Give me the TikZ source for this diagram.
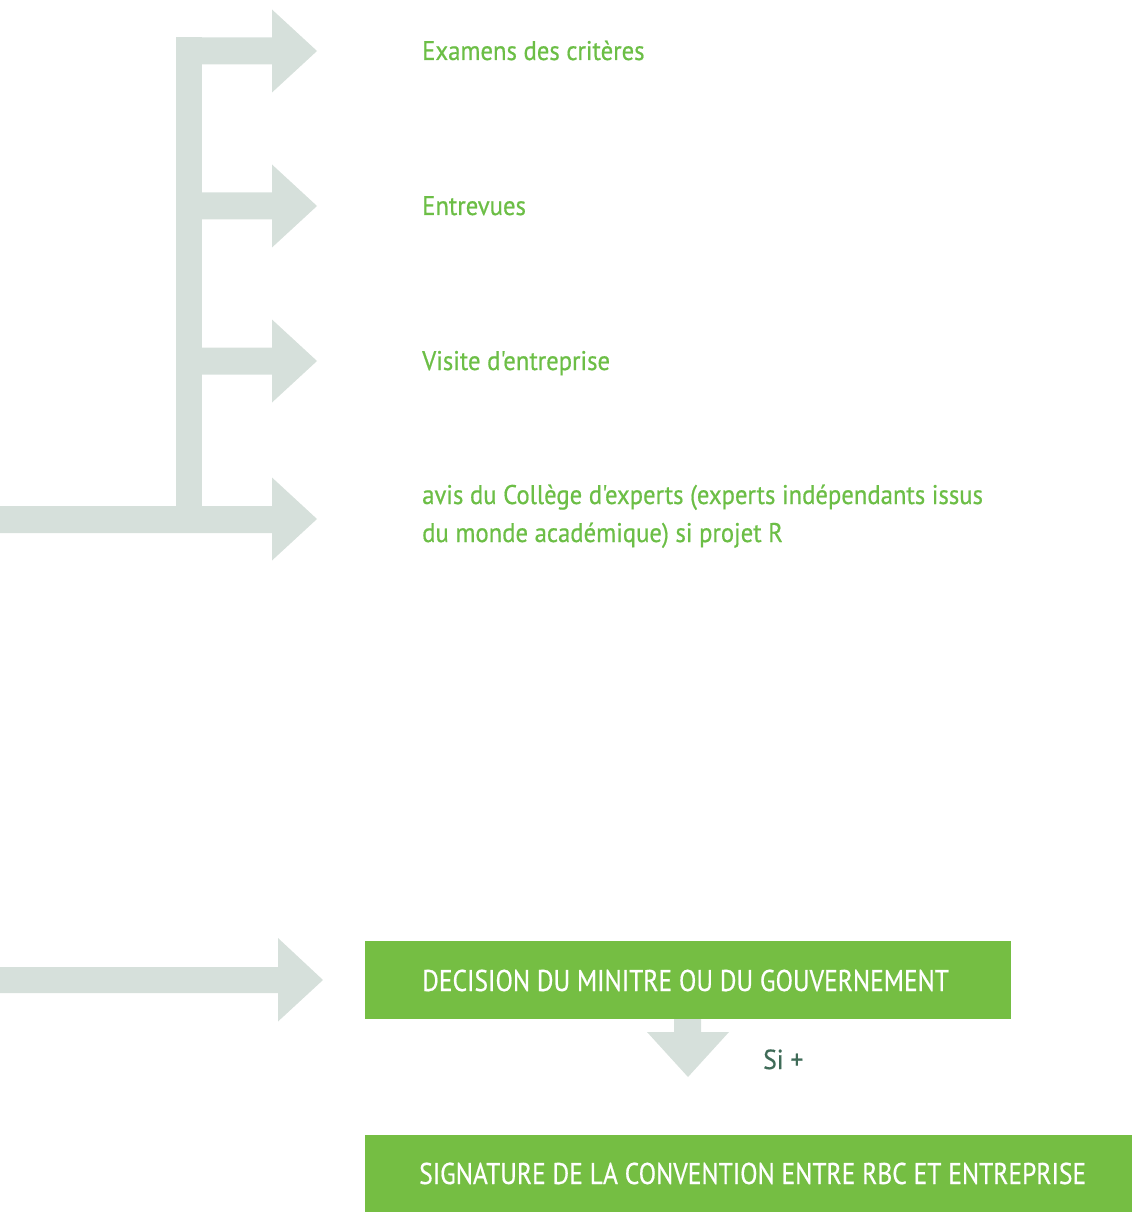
\documentclass[tikz,border=0pt]{standalone}
\usepackage{fontspec}
\setmainfont[Ligatures=TeXOff,FakeStretch=0.92]{PT Sans}
\newfontfamily\greenfont[Ligatures=TeXOff,FakeStretch=0.915,FakeBold=0.6]{PT Sans}
\newfontfamily\boxfont[Ligatures=TeXOff,FakeStretch=0.85,FakeBold=0.5]{PT Sans}
\newfontfamily\condfont[Ligatures=TeXOff,FakeStretch=0.93,FakeBold=0.6]{PT Sans}
\definecolor{arrowgray}{HTML}{D6E0DB}
\definecolor{txtgreen}{HTML}{6CBE46}
\definecolor{boxgreen}{HTML}{75BE43}
\definecolor{darkgreen}{HTML}{3F6B58}
\begin{document}
\begin{tikzpicture}[x=1pt,y=-1pt,
  blockarrow/.style={fill=arrowgray,draw=none},
  greenbox/.style={fill=boxgreen,draw=none},
  steplabel/.style={anchor=base west,inner sep=0pt,text=txtgreen,font=\greenfont\fontsize{27}{32}\selectfont},
  boxlabel/.style={anchor=base west,inner sep=0pt,text=white,font=\boxfont\fontsize{30}{35}\selectfont},
  condlabel/.style={anchor=base west,inner sep=0pt,text=darkgreen,font=\condfont\fontsize{27.5}{32}\selectfont}]
\useasboundingbox (0,0) rectangle (1136,1214);
% tree of arrows
\fill[blockarrow] (176,37) rectangle (202,533);
\foreach \t in {51,206,361} {
  \fill[blockarrow] (176,\t-13.5) -- (272,\t-13.5) -- (272,\t-41.5) -- (317,\t) -- (272,\t+41.5) -- (272,\t+13.5) -- (202,\t+13.5) -- cycle;
}
\fill[blockarrow] (0,506) -- (272,506) -- (272,477.5) -- (317,519) -- (272,560.5) -- (272,533) -- (0,533) -- cycle;
% labels
\node[steplabel] (examens) at (422,60) {Examens des critères};
\node[steplabel] (entrevues) at (422,215) {Entrevues};
\node[steplabel] (visite) at (422,370) {Visite d'entreprise};
\node[steplabel] (avisA) at (422,504) {avis du Collège d'experts (experts indépendants issus};
\node[steplabel] (avisB) at (422,542) {du monde académique) si projet R};
% lower arrow
\fill[blockarrow] (0,967) -- (278,967) -- (278,938) -- (323,980) -- (278,1021.5) -- (278,993) -- (0,993) -- cycle;
% decision box
\fill[greenbox] (365,941) rectangle (1011,1019);
\node[boxlabel] (decision) at (422,991) {DECISION DU MINITRE OU DU GOUVERNEMENT};
% down arrow
\fill[blockarrow] (674,1019) -- (701,1019) -- (701,1032) -- (729,1032) -- (688,1077) -- (647,1032) -- (674,1032) -- cycle;
\node[condlabel] (si) at (763,1069) {Si +};
% signature box
\fill[greenbox] (365,1135) rectangle (1132,1212);
\node[boxlabel] (signature) at (419,1184) {SIGNATURE DE LA CONVENTION ENTRE RBC ET ENTREPRISE};
\end{tikzpicture}
\end{document}
